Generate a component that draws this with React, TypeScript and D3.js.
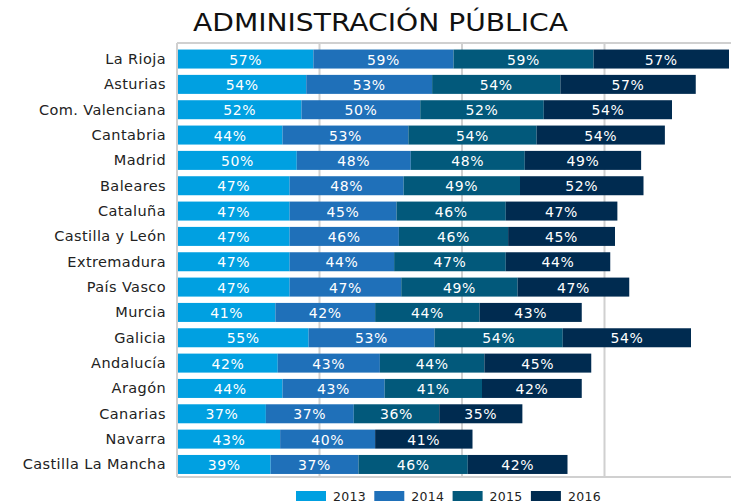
import React from "react";
import * as d3 from "d3";

const regions = [
  "La Rioja", "Asturias", "Com. Valenciana", "Cantabria", "Madrid", "Baleares",
  "Cataluña", "Castilla y León", "Extremadura", "País Vasco", "Murcia", "Galicia",
  "Andalucía", "Aragón", "Canarias", "Navarra", "Castilla La Mancha",
];
const years = ["2013", "2014", "2015", "2016"];
const v2013 = [57, 54, 52, 44, 50, 47, 47, 47, 47, 47, 41, 55, 42, 44, 37, 43, 39];
const v2014 = [59, 53, 50, 53, 48, 48, 45, 46, 44, 47, 42, 53, 43, 43, 37, 40, 37];
const v2015 = [59, 54, 52, 54, 48, 49, 46, 46, 47, 49, 44, 54, 44, 41, 36, null, 46];
const v2016 = [57, 57, 54, 54, 49, 52, 47, 45, 44, 47, 43, 54, 45, 42, 35, 41, 42];
const gridTicks = [0, 60, 120, 180, 240];
const colors = ["#00a0e1", "#1f70b9", "#02597b", "#002b50"];

export default function App() {
  const W = 731, H = 503;
  const x = d3.scaleLinear().domain([0, 232]).range([178, 729]);
  const y = d3.scaleBand().domain(regions).range([46.5, 477]).paddingInner(0.25).paddingOuter(0.12);
  const series = [v2013, v2014, v2015, v2016];
  const font = "'DejaVu Sans', 'Open Sans', sans-serif";

  const rows = regions.map((r, i) => {
    let acc = 0;
    const segs: any[] = [];
    series.forEach((s, k) => {
      const v = s[i];
      if (v == null) return;
      segs.push({ k, v, x0: acc, x1: acc + v });
      acc += v;
    });
    return { r, segs };
  });

  return (
    <svg width={W} height={H} style={{ position: "absolute", left: 0, top: 0, background: "#fff" }}>
      <text x={193} y={31} textLength={375} lengthAdjust="spacingAndGlyphs" fontFamily={font} fontSize={25} fill="#111">
        ADMINISTRACIÓN PÚBLICA
      </text>
      {/* frame and grid */}
      <line x1={177} x2={731} y1={43} y2={43} stroke="#d0d0d0" strokeWidth={2} />
      <line x1={177} x2={731} y1={477} y2={477} stroke="#d0d0d0" strokeWidth={2} />
      {gridTicks.map((t) => (
        <line key={t} x1={x(t) - 1} x2={x(t) - 1} y1={43} y2={477} stroke="#d0d0d0" strokeWidth={2} />
      ))}
      {rows.map(({ r, segs }) => {
        const yy = y(r)!;
        const bh = y.bandwidth();
        return (
          <g key={r}>
            <text x={166} y={yy + bh / 2} textAnchor="end" dominantBaseline="central" fontFamily={font} fontSize={14.5} letterSpacing={0.4} fill="#222">
              {r}
            </text>
            {segs.map((s) => (
              <g key={s.k}>
                <rect x={x(s.x0)} y={yy} width={x(s.x1) - x(s.x0)} height={bh} fill={colors[s.k]} />
                <text x={(x(s.x0) + x(s.x1)) / 2} y={yy + bh / 2 + 0.5} textAnchor="middle" dominantBaseline="central" fontFamily={font} fontSize={14} letterSpacing={0.6} fill="#fff">
                  {s.v}%
                </text>
              </g>
            ))}
          </g>
        );
      })}
      {years.map((yr, k) => (
        <g key={yr} transform={`translate(${296 + k * 78.3},491)`}>
          <rect x={0} y={0} width={30} height={10} fill={colors[k]} />
          <text x={37} y={5} dominantBaseline="central" fontFamily={font} fontSize={12.5} letterSpacing={0.3} fill="#222">
            {yr}
          </text>
        </g>
      ))}
    </svg>
  );
}
